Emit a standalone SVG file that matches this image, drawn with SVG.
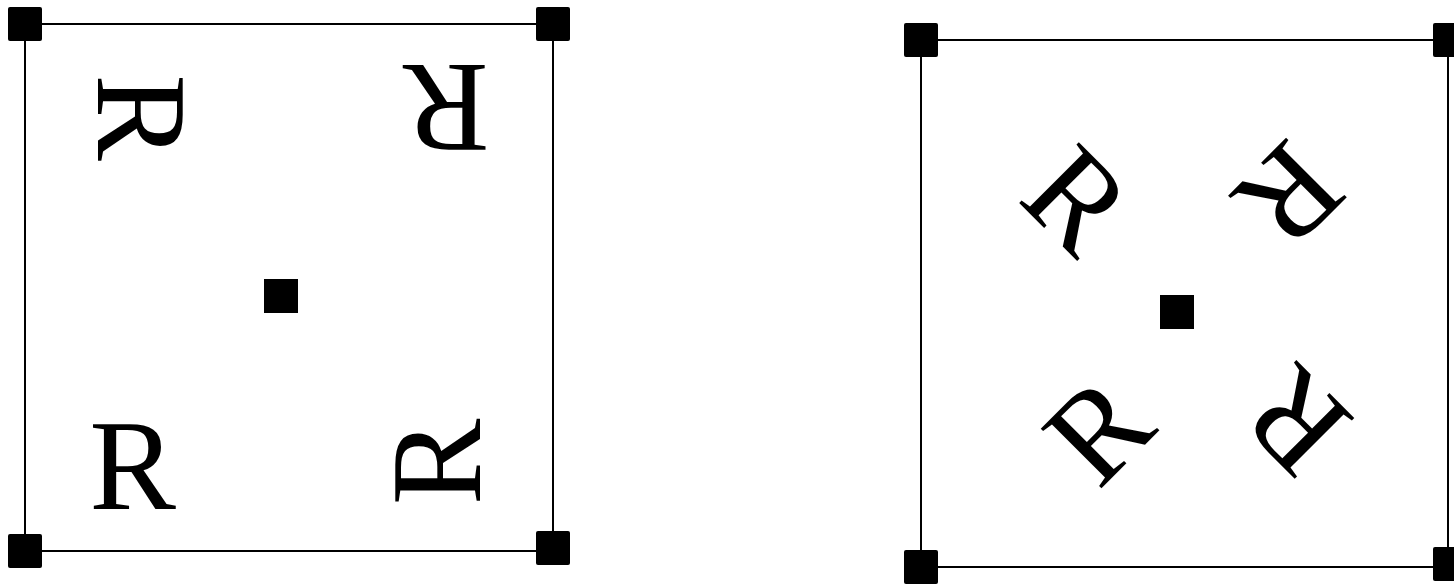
<svg xmlns="http://www.w3.org/2000/svg" width="1454" height="585" viewBox="0 0 1454 585">
<style>
.frame{fill:none;stroke:#000;stroke-width:2}
.h{fill:#000}
.r{font-family:"Liberation Serif","Times New Roman",serif;font-size:130px;fill:#000;text-anchor:middle}
</style>
<defs>
<rect id="hd" class="h" x="-17" y="-17" width="34" height="34" rx="2"/>
<text id="R" class="r" x="0" y="43">R</text>
</defs>
<rect width="1454" height="585" fill="#fff"/>
<g id="box-left">
<rect class="frame" x="25" y="24" width="528" height="527"/>
<use href="#hd" x="25" y="24"/>
<use href="#hd" x="553" y="24"/>
<use href="#hd" x="25" y="551"/>
<use href="#hd" x="553" y="548"/>
<rect class="h" x="264" y="279" width="34" height="34"/>
<use href="#R" transform="translate(132.5,466)"/>
<use href="#R" transform="translate(140.5,117.5) rotate(90)"/>
<use href="#R" transform="translate(446,107.5) rotate(180)"/>
<use href="#R" transform="translate(437,462) rotate(270)"/>
</g>
<g id="box-right">
<rect class="frame" x="921" y="40" width="527" height="527"/>
<use href="#hd" x="921" y="40"/>
<use href="#hd" x="1450" y="40"/>
<use href="#hd" x="921" y="567"/>
<use href="#hd" x="1450" y="564"/>
<rect class="h" x="1160" y="295" width="34" height="34"/>
<use href="#R" transform="translate(1077,200) rotate(45)"/>
<use href="#R" transform="translate(1289,195.5) rotate(135)"/>
<use href="#R" transform="translate(1296.5,421) rotate(225)"/>
<use href="#R" transform="translate(1098.5,430.5) rotate(315)"/>
</g>
</svg>
